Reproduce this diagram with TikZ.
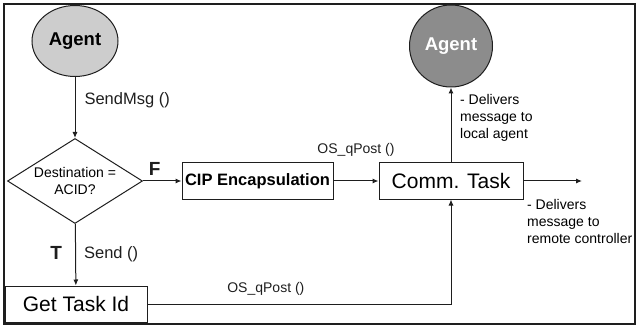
\documentclass[tikz,border=0pt]{standalone}
\usepackage{fontspec}
\setmainfont{Liberation Sans}
\usepackage{tikz}
\usetikzlibrary{positioning,arrows.meta,shapes.geometric}
\definecolor{flowink}{HTML}{1E1E1E}
\definecolor{agentlight}{HTML}{CDCDCD}
\definecolor{agentdark}{HTML}{8C8C8C}

\begin{document}
\begin{tikzpicture}[x=1pt,y=1pt,
  agent/.style={ellipse,draw=flowink,line width=1pt,inner sep=0pt,font=\fontsize{18.5}{21}\selectfont\bfseries},
  box/.style={draw=flowink,line width=1pt,inner sep=0pt,minimum height=36pt},
  lbl/.style={font=\fontsize{14}{17}\selectfont,inner sep=0pt},
  call/.style={font=\fontsize{16.5}{19}\selectfont,inner sep=0pt},
  tf/.style={font=\fontsize{19}{21}\selectfont\bfseries,inner sep=0pt},
  arr/.style={-{Latex[length=6pt,width=5pt]},flowink,line width=1pt}
]
\useasboundingbox (0,0) rectangle (637,327);
\draw[flowink,line width=1.4pt] (4,3) rectangle (635,323);

\node[agent,fill=agentlight,minimum width=86pt,minimum height=71pt] (agentA) at (75,286) {Agent};
\node[agent,fill=agentdark,text=white,minimum width=83pt,minimum height=82pt] (agentB) at (451,281) {Agent};

\node[diamond,draw=flowink,line width=1pt,aspect=1.6,inner sep=0pt,minimum width=135pt,minimum height=85pt,
  align=center,font=\fontsize{14}{17}\selectfont] (decide) at (75,146) {Destination =\\ACID?};
\node[box,minimum width=151pt,font=\fontsize{16.5}{19}\selectfont\bfseries] (cip) at (257.5,146) {CIP Encapsulation};
\node[box,minimum width=144pt,font=\fontsize{21}{24}\selectfont,right=45pt of cip] (comm) {Comm. Task};
\node[box,minimum width=142pt,font=\fontsize{21}{24}\selectfont] (gettask) at (76,23) {Get Task Id};
\coordinate (remote) at (582,146);

\draw[arr] (agentA) -- node[call,pos=0.38,right=9pt] {SendMsg ()} (decide);
\draw[arr] (decide) -- node[tf,pos=0.3,above=5pt] {F} (cip);
\draw[arr] (cip) -- node[lbl,midway,above=24pt] {OS\_qPost ()} (comm);
\draw[arr] (decide) -- node[tf,pos=0.47,left=13pt] {T} node[call,pos=0.5,right=8pt] {Send ()} (gettask);
\draw[arr] (gettask.east) -- node[lbl,pos=0.39,above=8pt] {OS\_qPost ()} (gettask.east -| comm.south) -- (comm.south);
\draw[arr] (comm.north) -- (comm.north |- agentB.south);
\draw[arr] (comm.east) -- (remote);

\node[lbl,align=left,anchor=north west] (localtxt) at (460,233) {- Delivers\\message to\\local agent};
\node[lbl,align=left,anchor=north west] (remotetxt) at (527,128) {- Delivers\\message to\\remote controller};
\end{tikzpicture}
\end{document}
